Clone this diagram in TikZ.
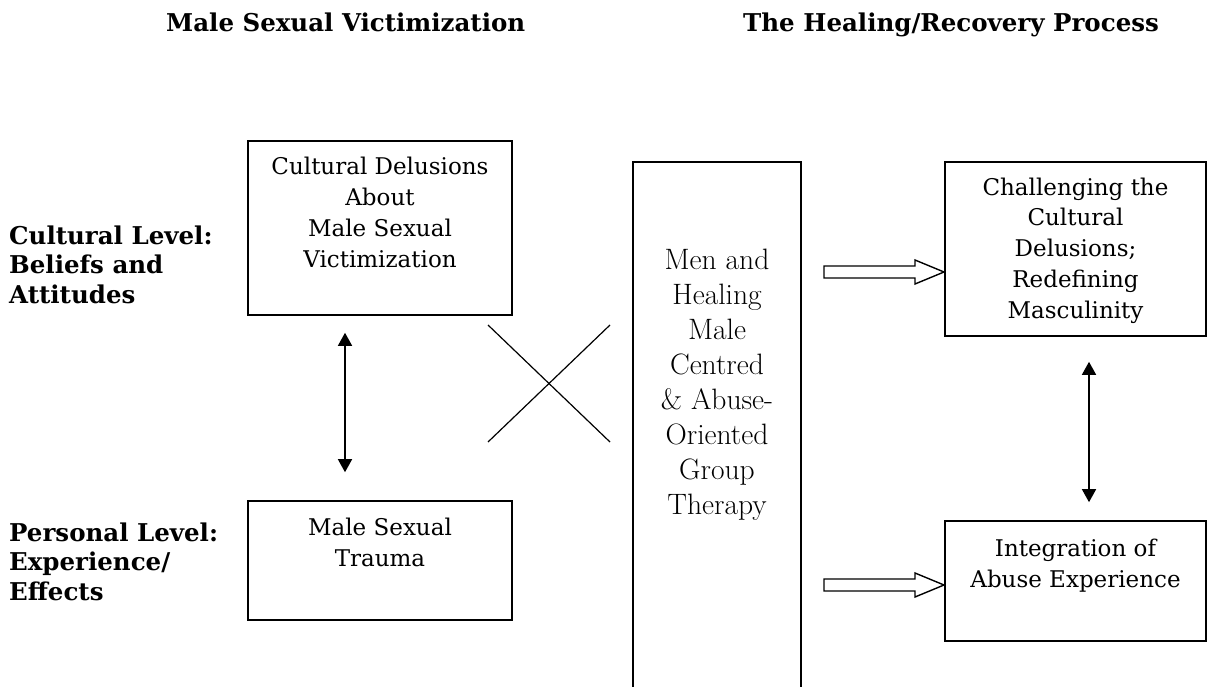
\documentclass[tikz,border=0pt]{standalone}
\usepackage{fontspec}
\newfontfamily\bookfont{DejaVu Serif}
\usetikzlibrary{arrows.meta,calc}
\begin{document}
\begin{tikzpicture}[x=1pt,y=-1pt,
  box/.style={draw, line width=1.6pt, rectangle, inner sep=0pt},
  boxtext/.style={font=\bookfont\fontsize{23}{30.7}\selectfont, align=center, inner sep=0pt, anchor=base},
  headtext/.style={font=\bookfont\bfseries\fontsize{24.5}{30}\selectfont, inner sep=0pt, anchor=base west},
  leveltext/.style={font=\bookfont\bfseries\fontsize{24.5}{29.5}\selectfont, align=left, inner sep=0pt, anchor=base west},
  midtext/.style={font=\fontsize{29.5}{35}\selectfont, align=center, inner sep=0pt, anchor=base},
  twoway/.style={line width=1.5pt, {Triangle[width=14pt,length=13pt]}-{Triangle[width=14pt,length=13pt]}},
  hollow/.style={draw, line width=1.4pt, line join=miter},
  cross/.style={line width=1.2pt}]
\useasboundingbox (0,0) rectangle (1207,687);

% column headings
\node[headtext] (headL) at (166,32) {Male Sexual Victimization};
\node[headtext] (headR) at (743,32) {The Healing/Recovery Process};

% level labels (anchored at the baseline of their last line)
\node[leveltext] (levC) at (9,303) {Cultural Level:\\Beliefs and\\Attitudes};
\node[leveltext] (levP) at (9,600) {Personal Level:\\Experience/\\Effects};

% left column
\node[box, minimum width=264pt, minimum height=174pt] (cult) at (380,228) {};
\node[boxtext] (cultT) at (380,267) {Cultural Delusions\\About\\Male Sexual\\Victimization};
\node[box, minimum width=264pt, minimum height=119pt] (trauma) at (380,560.5) {};
\node[boxtext] (traumaT) at (380,566) {Male Sexual\\Trauma};
\draw[twoway] ([xshift=-35pt,yshift=-17pt]cult.south) -- ([xshift=-35pt,yshift=28pt]trauma.north);

% crossing lines
\draw[cross] (488,325) -- (610,442);
\draw[cross] (488,442) -- (610,325);

% group therapy column
\node[box, minimum width=168pt, minimum height=528pt] (group) at (717,426) {};
\node[midtext] (groupT) at (717,514) {Men and\\Healing\\Male\\Centred\\\& Abuse-\\Oriented\\Group\\Therapy};

% right column
\node[box, minimum width=261pt, minimum height=174pt] (chal) at (1075.5,249) {};
\node[boxtext] (chalT) at (1075.5,318) {Challenging the\\Cultural\\Delusions;\\Redefining\\Masculinity};
\node[box, minimum width=261pt, minimum height=120pt] (integ) at (1075.5,581) {};
\node[boxtext] (integT) at (1075.5,587) {Integration of\\Abuse Experience};
\draw[twoway] ([xshift=13.5pt,yshift=-25pt]chal.south) -- ([xshift=13.5pt,yshift=18pt]integ.north);

% block arrows into the right column
\draw[hollow] (824,266) -- (915,266) -- (915,260) -- (944,272) -- (915,284) -- (915,278) -- (824,278) -- cycle;
\draw[hollow] (824,579) -- (915,579) -- (915,573) -- (944,585) -- (915,597) -- (915,591) -- (824,591) -- cycle;
\end{tikzpicture}
\end{document}
